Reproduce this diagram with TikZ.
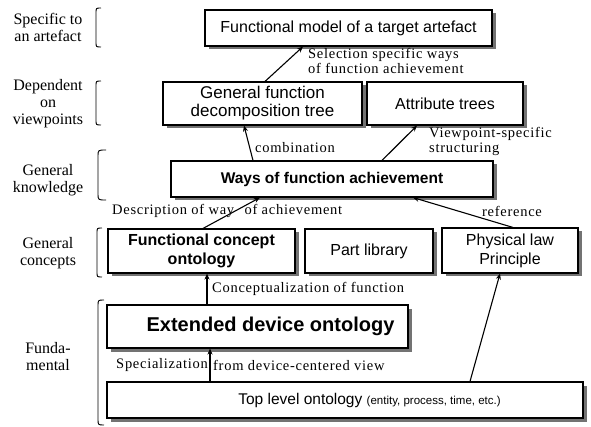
\documentclass[tikz,border=0pt]{standalone}
\usepackage{fontspec}
\setmainfont{Liberation Serif}
\newfontfamily\serfont{Liberation Serif}
\newfontfamily\labfont[LetterSpace=5]{Liberation Serif}
\newfontfamily\boxfont{Liberation Sans}
\usetikzlibrary{shadows,calc,arrows.meta}
\begin{document}
\begin{tikzpicture}[x=1pt,y=-1pt,
  box/.style={draw, line width=1.1pt, fill=white, inner sep=0pt, align=center,
    font=\boxfont\fontsize{16}{19}\selectfont,
    drop shadow={shadow xshift=3.5pt, shadow yshift=-3.5pt, fill=black!55, opacity=1}},
  bbox/.style={box, font=\boxfont\bfseries\fontsize{16}{19}\selectfont},
  conn/.style={line width=1.1pt, -{Stealth[length=6pt,width=5pt]}},
  lab/.style={font=\labfont\fontsize{14.5}{15}\selectfont, inner sep=0pt, align=left},
  side/.style={font=\serfont\fontsize{16}{17}\selectfont, align=center, inner sep=0pt},
  brk/.style={line width=0.9pt}]
\useasboundingbox (0,0) rectangle (591,427);
% boxes
\node[box, minimum width=287pt, minimum height=36pt] (art) at (348.5,28) {Functional model of a target artefact};
\node[box, minimum width=199pt, minimum height=43pt, font=\boxfont\fontsize{17}{18}\selectfont] (gen) at (262.5,103.5) {General function\\decomposition tree};
\node[box, minimum width=156pt, minimum height=43pt] (attr) at (445,103.5) {Attribute trees};
\node[bbox, minimum width=322pt, minimum height=36pt, font=\boxfont\bfseries\fontsize{15.5}{18}\selectfont] (ways) at (332,179) {Ways of function achievement};
\node[bbox, minimum width=187pt, minimum height=44pt] (fco) at (201.5,251) {Functional concept\\ontology};
\node[box, minimum width=128pt, minimum height=44pt] (part) at (369,251) {Part library};
\node[box, minimum width=136pt, minimum height=45pt] (phys) at (510,250.5) {Physical law\\Principle};
\node[bbox, minimum width=301pt, minimum height=43pt, font=\boxfont\bfseries\fontsize{20}{22}\selectfont] (ext) at (257.5,326.5) {\hspace*{26pt}Extended device ontology};
\node[box, minimum width=476pt, minimum height=36pt, font=\boxfont\fontsize{15.5}{18}\selectfont] (top) at (345,400) {\hspace*{49pt}Top level ontology {\fontsize{11.5}{14}\selectfont(entity, process, time, etc.)}};
% connectors
\draw[conn] ($(gen.north)+(2.5,0)$) -- ($(art.south)+(-45.5,0)$);
\draw[conn] ($(ways.north)+(-79,0)$) -- ($(gen.south)+(-18.5,0)$);
\draw[conn] ($(ways.north)+(50,0)$) -- ($(attr.south)+(-28,0)$);
\draw[conn] ($(fco.north)+(1.5,0)$) -- ($(ways.south)+(-72,0)$);
\draw[conn] ($(phys.north)+(3,0)$) -- ($(ways.south)+(81,0)$);
\draw[conn] ($(ext.north)+(-50.5,0)$) -- ($(fco.south)+(5.5,0)$);
\draw[conn] ($(top.north)+(-135,0)$) -- ($(ext.south)+(-47.5,0)$);
\draw[conn] ($(top.north)+(125,0)$) -- ($(phys.south)+(-10,0)$);
% connector labels
\node[lab, anchor=north west] (l1) at (308,48) {Selection specific ways\\of function achievement};
\node[lab, anchor=west] (l2) at (255,148) {combination};
\node[lab, anchor=west] (l3) at (429,141) {Viewpoint-specific\\structuring};
\node[lab, anchor=west] (l4) at (112,211) {Description of way\hspace{6pt} of achievement};
\node[lab, anchor=west] (l5) at (482,211) {reference};
\node[lab, anchor=west] (l6) at (212,289) {Conceptualization of function};
\node[lab, anchor=east] (l7) at (208,365) {Specialization};
\node[lab, anchor=west] (l8) at (213,365) {from device-centered view};
% side labels
\node[side] (s1) at (48,27) {Specific to\\an artefact};
\node[side] (s2) at (48,104) {Dependent\\on\\viewpoints};
\node[side] (s3) at (48,180) {General\\knowledge};
\node[side] (s4) at (48,253) {General\\concepts};
\node[side] (s5) at (48,357) {Funda-\\mental};
% brackets
\draw[brk] (101,8) .. controls (96,8) .. (96,13) -- (96,42) .. controls (96,47) .. (101,47);
\draw[brk] (101,81) .. controls (96,81) .. (96,86) -- (96,120) .. controls (96,125) .. (101,125);
\draw[brk] (106,150) .. controls (98,150) .. (98,156) -- (98,194) .. controls (98,200) .. (106,200);
\draw[brk] (102,228) .. controls (97,228) .. (97,233) -- (97,272) .. controls (97,277) .. (102,277);
\draw[brk] (104,300) .. controls (98,300) .. (98,306) -- (98,419) .. controls (98,425) .. (104,425);
\end{tikzpicture}
\end{document}
